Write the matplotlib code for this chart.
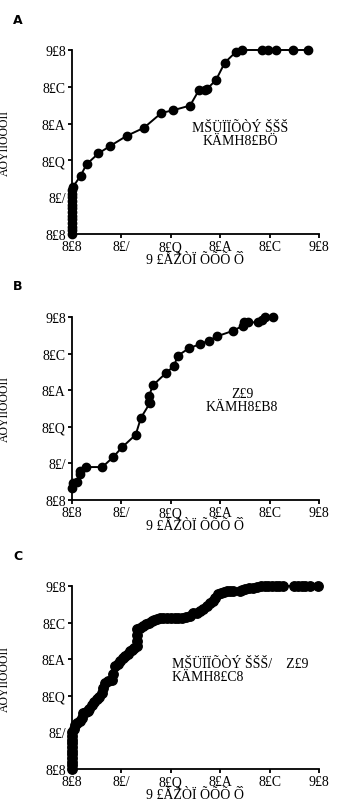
import matplotlib
matplotlib.use('Agg')
import matplotlib.pyplot as plt

# Garbled glyph labels, as they appear in the source figure
TICK_LABELS = ['8£8', '8£/', '8£Q', '8£A', '8£C', '9£8']
TICK_VALUES = [0.0, 0.2, 0.4, 0.6, 0.8, 1.0]
X_LABEL = '9 £ÅŽÒÏ ÕÕÕ Õ̀'
Y_LABEL = 'ÀÓÝÏÏÕÕÒÏÏ'
PANEL_LABELS = ['A', 'B', 'C']
NOTES = [
    'MŠÜÏÏÕÒÝ ŠŠŠ\nKÄMH8£BÖ',
    'Z£9\nKÄMH8£B8',
    'MŠÜÏÏÕÒÝ ŠŠŠ/    Z£9\nKÄMH8£C8',
]

# Panel A
a_x = [0.0, 0.0, 0.0, 0.0, 0.0, 0.0, 0.0, 0.0, 0.0, 0.0, 0.0, 0.0, 0.0, 0.003,
       0.035, 0.059, 0.107, 0.154, 0.221, 0.291, 0.362, 0.408, 0.478, 0.514,
       0.537, 0.548, 0.583, 0.619, 0.664, 0.688, 0.769, 0.793, 0.826, 0.895, 0.955]
a_y = [0.0, 0.02, 0.04, 0.06, 0.08, 0.10, 0.12, 0.14, 0.16, 0.18, 0.20, 0.22, 0.24, 0.254,
       0.317, 0.379, 0.438, 0.478, 0.533, 0.577, 0.658, 0.672, 0.698, 0.782,
       0.782, 0.79, 0.837, 0.932, 0.99, 1.0, 1.0, 1.0, 1.0, 1.0, 1.0]

# Panel B
b_x = [0.0, 0.003, 0.019, 0.032, 0.032, 0.055, 0.123, 0.167, 0.202, 0.258, 0.279,
       0.316, 0.312, 0.312, 0.327, 0.379, 0.413, 0.428, 0.472, 0.518, 0.553, 0.586,
       0.653, 0.691, 0.698, 0.714, 0.754, 0.768, 0.781, 0.815]
b_y = [0.064, 0.092, 0.10, 0.143, 0.156, 0.18, 0.18, 0.235, 0.287, 0.357, 0.449,
       0.531, 0.535, 0.568, 0.626, 0.692, 0.733, 0.788, 0.828, 0.852, 0.87, 0.894,
       0.925, 0.952, 0.971, 0.971, 0.971, 0.985, 0.998, 0.998]

# Panel C
c_x = [0.0, 0.0, 0.0, 0.0, 0.0, 0.0, 0.0, 0.0, 0.0, 0.0, 0.0,
       0.01, 0.012, 0.02, 0.032, 0.04, 0.043, 0.055, 0.066, 0.07, 0.08, 0.09,
       0.103, 0.11, 0.12, 0.125, 0.134, 0.145, 0.161, 0.165, 0.174, 0.185, 0.195,
       0.205, 0.215, 0.225, 0.235, 0.242, 0.252, 0.262, 0.263, 0.263, 0.264, 0.275,
       0.289, 0.30, 0.31, 0.323, 0.333, 0.343, 0.355, 0.37, 0.383, 0.40, 0.415,
       0.43, 0.445, 0.46, 0.478, 0.49, 0.505, 0.518, 0.53, 0.545, 0.558, 0.572,
       0.58, 0.592, 0.605, 0.615, 0.626, 0.64, 0.653, 0.68, 0.69, 0.70, 0.715,
       0.734, 0.75, 0.765, 0.78, 0.795, 0.81, 0.825, 0.84, 0.856, 0.90, 0.915,
       0.93, 0.945, 0.965, 0.997]
c_y = [0.0, 0.02, 0.04, 0.06, 0.08, 0.10, 0.12, 0.14, 0.16, 0.18, 0.20,
       0.22, 0.243, 0.25, 0.26, 0.28, 0.306, 0.31, 0.315, 0.33, 0.352, 0.365,
       0.38, 0.395, 0.416, 0.44, 0.47, 0.48, 0.489, 0.52, 0.562, 0.575, 0.59,
       0.605, 0.617, 0.63, 0.645, 0.653, 0.663, 0.671, 0.70, 0.73, 0.763, 0.77,
       0.781, 0.79, 0.80, 0.808, 0.815, 0.821, 0.825, 0.827, 0.827, 0.827, 0.827,
       0.827, 0.827, 0.83, 0.836, 0.85, 0.855, 0.864, 0.875, 0.891, 0.905, 0.918,
       0.935, 0.954, 0.96, 0.965, 0.972, 0.972, 0.972, 0.975, 0.978, 0.982, 0.987,
       0.991, 0.995, 1.0, 1.0, 1.0, 1.0, 1.0, 1.0, 1.0, 1.0, 1.0,
       1.0, 1.0, 1.0, 1.0]

SERIES = [(a_x, a_y), (b_x, b_y), (c_x, c_y)]

W, H = 339, 812
fig = plt.figure(figsize=(W / 100, H / 100), dpi=100)
SERIF = 'Liberation Serif'

# (top, bottom) of each plotting area in pixels
boxes = [(51, 235), (318, 501), (587, 770)]
note_pos = [(240, 135), (242, 401), (172, 671)]
note_ha = ['center', 'center', 'left']
label_pos = [(13, 20), (13, 287), (13, 557)]
marker_size = [6, 6, 6.8]
left, right = 72, 319

for i, (xs, ys) in enumerate(SERIES):
    top, bottom = boxes[i]
    ax = fig.add_axes([left / W, 1 - bottom / H, (right - left) / W, (bottom - top) / H])
    ax.plot(xs, ys, color='black', lw=1.4, marker='o', ms=marker_size[i],
            clip_on=False, zorder=3)
    ax.set_xlim(0, 1)
    ax.set_ylim(0, 1)
    for side in ['top', 'right']:
        ax.spines[side].set_visible(False)
    for side in ['left', 'bottom']:
        ax.spines[side].set_linewidth(1.3)
    ax.set_xticks(TICK_VALUES)
    ax.set_yticks(TICK_VALUES)
    ax.set_xticklabels(TICK_LABELS, family=SERIF, fontsize=10)
    ax.set_yticklabels(TICK_LABELS, family=SERIF, fontsize=10)
    ax.tick_params(direction='out', length=3, width=1.3, pad=1.5)
    ax.set_xlabel(X_LABEL, family=SERIF, fontsize=10, labelpad=0)

    fig.text(5 / W, 1 - (top + bottom) / 2 / H, Y_LABEL, rotation=90, family=SERIF,
             fontsize=8.5, ha='center', va='center')
    fig.text(label_pos[i][0] / W, 1 - label_pos[i][1] / H, PANEL_LABELS[i],
             family='DejaVu Sans', fontweight='bold', fontsize=9, ha='left', va='center')
    nx, ny = note_pos[i]
    fig.text(nx / W, 1 - ny / H, NOTES[i], family=SERIF, fontsize=10,
             ha=note_ha[i], va='center', linespacing=1.0, multialignment=note_ha[i])

fig.savefig('out.png', dpi=100)
